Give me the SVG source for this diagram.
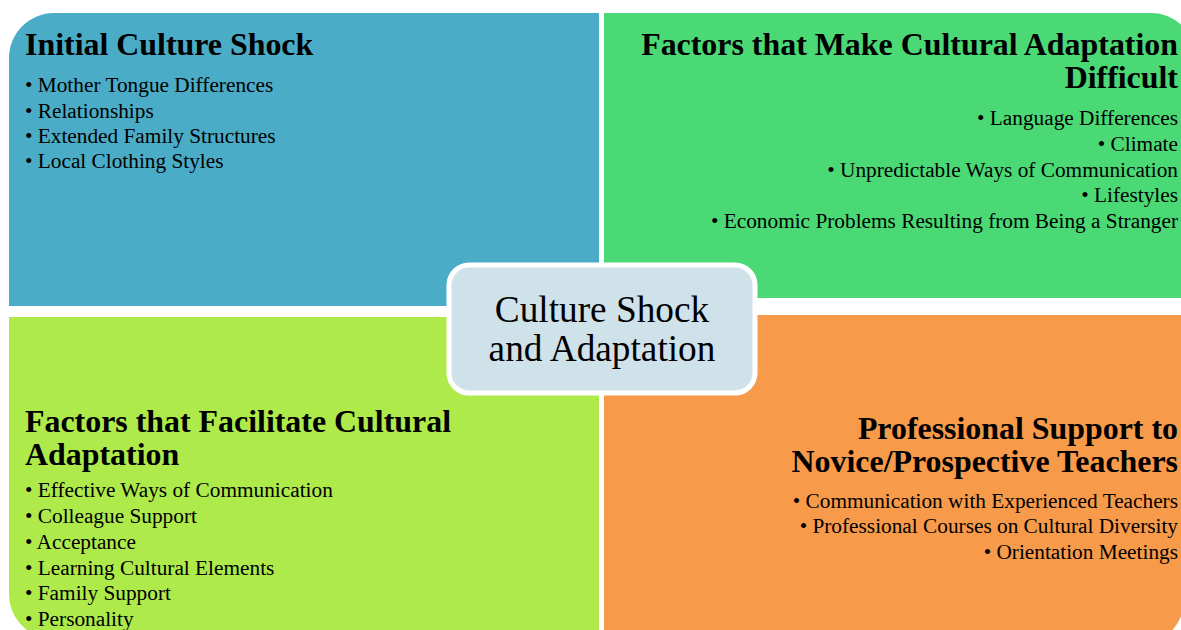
<svg xmlns="http://www.w3.org/2000/svg" width="1181" height="630" viewBox="0 0 1181 630">
  <style>
    .title { font-family: "Liberation Serif", "Times New Roman", serif; font-weight: bold; font-size: 31.9px; fill: #000; }
    .item { font-family: "Liberation Serif", "Times New Roman", serif; font-size: 21.3px; fill: #000; }
    .center { font-family: "Liberation Serif", "Times New Roman", serif; font-size: 37.3px; fill: #000; }
    .right { text-anchor: end; }
  </style>
  <rect width="1181" height="630" fill="#ffffff"/>

  <!-- top-left quadrant -->
  <g id="initial-culture-shock">
    <path d="M9,306 V58 A45,45 0 0 1 54,13 H599 V306 Z" fill="#4aacc6"/>
    <text class="title" x="25" y="55">Initial Culture Shock</text>
    <text class="item" x="25" y="92">• Mother Tongue Differences</text>
    <text class="item" x="25" y="118">• Relationships</text>
    <text class="item" x="25" y="143">• Extended Family Structures</text>
    <text class="item" x="25" y="168">• Local Clothing Styles</text>
  </g>

  <!-- top-right quadrant -->
  <g id="adaptation-difficult">
    <path d="M604,13 H1151 A45,45 0 0 1 1196,58 V298 H604 Z" fill="#4ad975"/>
    <text class="title right" x="1178" y="55">Factors that Make Cultural Adaptation</text>
    <text class="title right" x="1178" y="88">Difficult</text>
    <text class="item right" x="1178" y="125">• Language Differences</text>
    <text class="item right" x="1178" y="151">• Climate</text>
    <text class="item right" x="1178" y="177">• Unpredictable Ways of Communication</text>
    <text class="item right" x="1178" y="202">• Lifestyles</text>
    <text class="item right" x="1178" y="228">• Economic Problems Resulting from Being a Stranger</text>
  </g>

  <!-- bottom-left quadrant -->
  <g id="adaptation-facilitators">
    <path d="M9,317 H599 V639 H54 A45,45 0 0 1 9,594 Z" fill="#aeea4a"/>
    <text class="title" x="25" y="432">Factors that Facilitate Cultural</text>
    <text class="title" x="25" y="465">Adaptation</text>
    <text class="item" x="25" y="497">• Effective Ways of Communication</text>
    <text class="item" x="25" y="523">• Colleague Support</text>
    <text class="item" x="25" y="549">• Acceptance</text>
    <text class="item" x="25" y="575">• Learning Cultural Elements</text>
    <text class="item" x="25" y="600">• Family Support</text>
    <text class="item" x="25" y="626">• Personality</text>
  </g>

  <!-- bottom-right quadrant -->
  <g id="professional-support">
    <path d="M604,315 H1184 V600 A45,45 0 0 1 1139,645 H604 Z" fill="#f79a4a"/>
    <text class="title right" x="1178" y="439">Professional Support to</text>
    <text class="title right" x="1178" y="472">Novice/Prospective Teachers</text>
    <text class="item right" x="1178" y="508">• Communication with Experienced Teachers</text>
    <text class="item right" x="1178" y="533">• Professional Courses on Cultural Diversity</text>
    <text class="item right" x="1178" y="559">• Orientation Meetings</text>
  </g>

  <!-- central topic -->
  <g id="culture-shock-and-adaptation">
    <rect x="449" y="265" width="306" height="128" rx="20" ry="20" fill="#cfe1e9" stroke="#ffffff" stroke-width="5"/>
    <text class="center" x="602" y="322" text-anchor="middle">Culture Shock</text>
    <text class="center" x="602" y="361" text-anchor="middle">and Adaptation</text>
  </g>

  <g id="connectors"/>
</svg>
